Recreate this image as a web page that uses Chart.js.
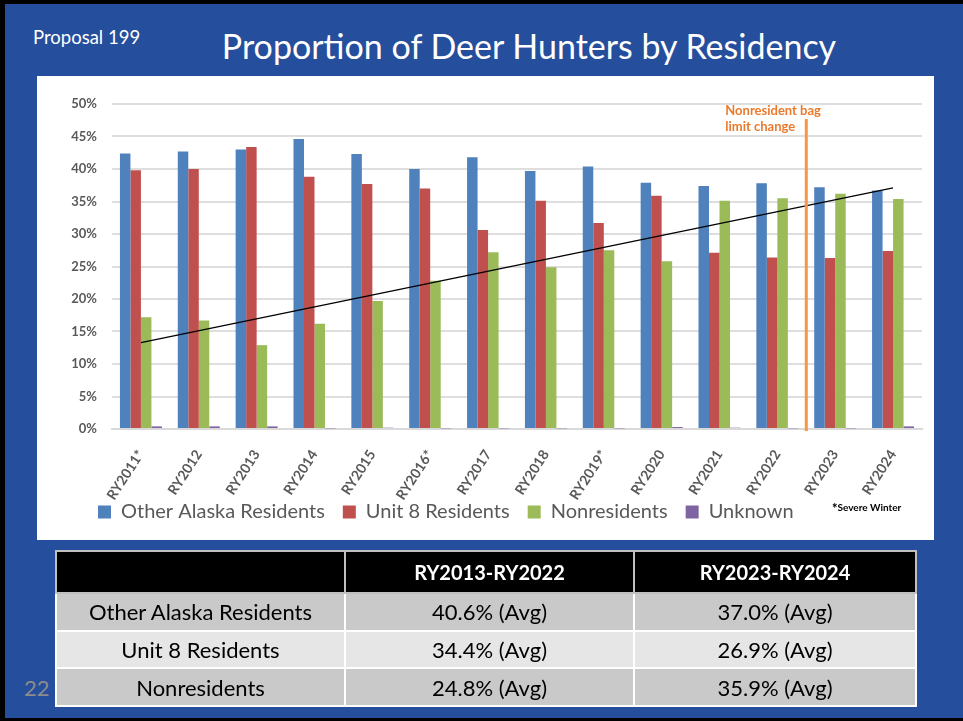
<!DOCTYPE html>
<html>
<head>
<meta charset="utf-8">
<script src="https://cdn.jsdelivr.net/npm/chart.js@4.4.1/dist/chart.umd.min.js"></script>
<style>
  html, body { margin: 0; padding: 0; }
  body { width: 963px; height: 721px; position: relative; overflow: hidden; background: #000; font-family: Lato, sans-serif; }
  #slide { position: absolute; left: 5px; top: 4px; right: 0; bottom: 3px; background: #254e9c; }
  #prop { position: absolute; left: 33px; top: 26px; color: #fff; font-size: 18.5px; }
  #title { position: absolute; left: 0; width: 1058px; top: 25px; text-align: center; color: #fff; font-size: 34px; }
  #box { position: absolute; left: 37px; top: 76px; width: 897px; height: 464px; background: #fff; }
  #wrap { position: absolute; left: 37px; top: 76px; width: 897px; height: 475px; }
  #note { position: absolute; left: 832px; top: 500px; font-size: 10px; font-weight: bold; color: #000; }
  #note b { font-size: 13px; vertical-align: -2px; }
  #page { position: absolute; left: 24px; top: 674px; color: #8c8c8c; font-size: 22px; }
  table { position: absolute; left: 55px; top: 550px; width: 862px; height: 157px; border-collapse: collapse; border: 1px solid #bfbfbf; }
  td, th { border: 2px solid #fff; text-align: center; padding: 0; font-size: 22px; color: #000; font-weight: normal; }
  th { background: #000; color: #fff; font-weight: bold; font-size: 20px; height: 40px; border-color: #bfbfbf; }
  tr.a td { background: #c9c9c9; }
  tr.b td { background: #e6e6e6; }
</style>
</head>
<body>
<div id="slide"></div>
<div id="prop">Proposal 199</div>
<div id="title">Proportion of Deer Hunters by Residency</div>
<div id="box"></div>
<div id="wrap"><canvas id="myChart"></canvas></div>
<div id="note"><b>*</b>Severe Winter</div>
<div id="page">22</div>
<table>
  <tr><th style="width:287px"></th><th style="width:287px">RY2013-RY2022</th><th>RY2023-RY2024</th></tr>
  <tr class="a"><td>Other Alaska Residents</td><td>40.6% (Avg)</td><td>37.0% (Avg)</td></tr>
  <tr class="b"><td>Unit 8 Residents</td><td>34.4% (Avg)</td><td>26.9% (Avg)</td></tr>
  <tr class="a"><td>Nonresidents</td><td>24.8% (Avg)</td><td>35.9% (Avg)</td></tr>
</table>
<script>
// values, in percent
const years = ['RY2011*', 'RY2012', 'RY2013', 'RY2014', 'RY2015', 'RY2016*', 'RY2017',
  'RY2018', 'RY2019*', 'RY2020', 'RY2021', 'RY2022', 'RY2023', 'RY2024']
const otherAK = [42.4, 42.7, 43.0, 44.6, 42.3, 40.0, 41.8, 39.7, 40.4, 37.9, 37.4, 37.8, 37.2, 36.7]
const unit8 = [39.8, 40.0, 43.4, 38.8, 37.7, 37.0, 30.6, 35.1, 31.7, 35.9, 27.1, 26.4, 26.3, 27.4]
const nonres = [17.2, 16.7, 12.9, 16.2, 19.7, 22.8, 27.2, 24.9, 27.5, 25.8, 35.1, 35.5, 36.2, 35.4]
const unknown = [0.4, 0.4, 0.4, 0.1, 0.2, 0.1, 0.1, 0.1, 0.1, 0.3, 0.2, 0.1, 0.1, 0.4]
// trend line ends (nonresidents), as drawn on the slide
const trend = [13.3, null, null, null, null, null, null, null, null, null, null, null, null, 37.1]
const yTicks = [0, 5, 10, 15, 20, 25, 30, 35, 40, 45, 50]
const changeAfter = 'RY2022'
const changeTop = 47.7
const changeLabel = ['Nonresident bag', 'limit change']

const grey = '#595959'

const bagLine = {
  id: 'bagLine',
  afterDatasetsDraw(chart) {
    const {ctx, scales: {x, y}} = chart
    const i = years.indexOf(changeAfter)
    const px = (x.getPixelForValue(i) + x.getPixelForValue(i + 1)) / 2
    ctx.save()
    ctx.strokeStyle = '#f79646'
    ctx.lineWidth = 3
    ctx.beginPath()
    ctx.moveTo(px, y.getPixelForValue(changeTop))
    ctx.lineTo(px, y.getPixelForValue(0) + 2)
    ctx.stroke()
    ctx.fillStyle = '#ec7a2c'
    ctx.font = 'bold 13px Lato'
    ctx.textBaseline = 'middle'
    ctx.fillText(changeLabel[0], px - 81, y.getPixelForValue(changeTop) - 8)
    ctx.fillText(changeLabel[1], px - 81, y.getPixelForValue(changeTop) + 8)
    ctx.restore()
  }
}

// pull the legend up into the spare room under the rotated labels
const legendUp = {
  id: 'legendUp',
  afterLayout(chart) {
    chart.legend.top -= 19
    chart.legend.bottom -= 19
    chart.legend.left += 14
  }
}

const ctx = document.getElementById('myChart')

new Chart(ctx, {
  type: 'bar',
  data: {
    labels: years,
    datasets: [
      {label: 'Other Alaska Residents', data: otherAK, backgroundColor: '#4f81bd'},
      {label: 'Unit 8 Residents', data: unit8, backgroundColor: '#c0504d'},
      {label: 'Nonresidents', data: nonres, backgroundColor: '#9bbb59'},
      {label: 'Unknown', data: unknown, backgroundColor: '#8064a2'},
      {type: 'line', label: 'trend', data: trend, borderColor: '#000', borderWidth: 1.2,
        pointRadius: 0, spanGaps: true, order: -1}
    ]
  },
  options: {
    responsive: true,
    maintainAspectRatio: false,
    animation: false,
    categoryPercentage: 0.726,
    barPercentage: 1.0,
    layout: {padding: {left: 29, right: 12, top: 28, bottom: 0}},
    plugins: {
      tooltip: {enabled: false},
      legend: {
        position: 'bottom',
        align: 'start',
        labels: {
          boxWidth: 13, boxHeight: 13, padding: 18, color: grey,
          font: {family: 'Lato', size: 20},
          filter: (item) => item.text !== 'trend'
        }
      }
    },
    scales: {
      x: {
        grid: {display: false},
        border: {color: '#d9d9d9', width: 2},
        ticks: {color: grey, font: {family: 'Lato', size: 14, weight: 'bold'}, minRotation: 57, maxRotation: 57, padding: 10},
        afterFit: (s) => { s.height = 74 }
      },
      y: {
        min: 0, max: 50,
        afterBuildTicks: (s) => { s.ticks = yTicks.map(v => ({value: v})) },
        grid: {color: '#dedede', lineWidth: 2, drawTicks: false},
        border: {display: false},
        ticks: {color: grey, padding: 15, font: {family: 'Lato', size: 13, weight: 'bold'}, callback: (v) => v + '%'},
        afterFit: (s) => { s.width = 46 }
      }
    }
  },
  plugins: [bagLine, legendUp]
});
</script>
</body>
</html>
